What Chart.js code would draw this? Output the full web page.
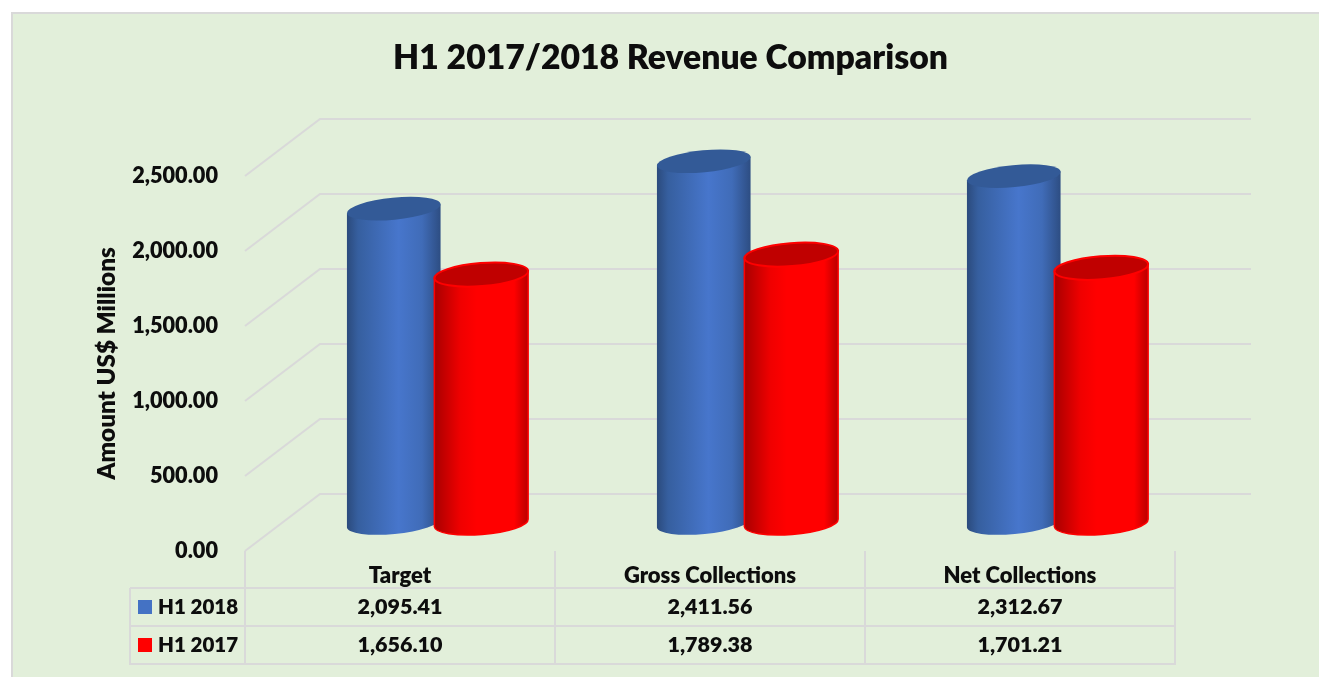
<!DOCTYPE html>
<html>
<head>
<meta charset="utf-8">
<title>H1 2017/2018 Revenue Comparison</title>
<script src="https://cdn.jsdelivr.net/npm/chart.js@4"></script>
<style>
  html, body { margin: 0; padding: 0; background: #fff; overflow: hidden; }
  canvas { display: block; }
</style>
</head>
<body>
<canvas id="revenueChart" width="1319" height="677"></canvas>
<script>
const categories = ['Target', 'Gross Collections', 'Net Collections'];
const seriesNames = ['H1 2018', 'H1 2017'];
const h1_2018 = [2095.41, 2411.56, 2312.67];
const h1_2017 = [1656.10, 1789.38, 1701.21];

const FONT = 'Lato, Carlito, Calibri, sans-serif';
const INK = '#0d0d0d';
const LINE = '#d9d9d9';
const money = v => v.toLocaleString('en-US', { minimumFractionDigits: 2, maximumFractionDigits: 2 });

// how far the back wall sits from the front plane
const DEPTH_X = 75;
const DEPTH_Y = 57;

const panel = {
  id: 'panel',
  // the title is centred on the whole panel, not the plot
  afterLayout(chart) {
    chart.titleBlock.left = 0;
    chart.titleBlock.right = 1341;
  },
  beforeDraw(chart) {
    const ctx = chart.ctx;
    ctx.save();
    ctx.fillStyle = '#e2efda';
    ctx.fillRect(12, 13, chart.width - 12, chart.height - 13);
    ctx.fillStyle = LINE;
    ctx.fillRect(11, 12, chart.width - 11, 2);
    ctx.fillRect(11, 12, 2, chart.height - 12);
    ctx.restore();
  }
};

// floor + back wall gridlines, follows the y scale ticks
const wall = {
  id: 'wall',
  beforeDatasetsDraw(chart) {
    const { ctx, chartArea, scales } = chart;
    ctx.save();
    ctx.strokeStyle = LINE;
    ctx.lineWidth = 2;
    scales.y.ticks.forEach((t, i) => {
      const y = scales.y.getPixelForTick(i);
      ctx.beginPath();
      ctx.moveTo(chartArea.left, y);
      ctx.lineTo(chartArea.left + DEPTH_X, y - DEPTH_Y);
      ctx.lineTo(chartArea.right + DEPTH_X + 1, y - DEPTH_Y);
      ctx.stroke();
    });
    ctx.restore();
  }
};

function cylinder(ctx, bar, style) {
  const a = bar.width / 2;
  const b = style.minor;
  const rot = style.tilt * Math.PI / 180;
  const cx = bar.x + DEPTH_X / 2;
  const top = bar.y - style.lift;
  const base = bar.base - style.lift;
  const dx = a * Math.cos(rot), dy = a * Math.sin(rot);

  const grad = ctx.createLinearGradient(cx - a, 0, cx + a, 0);
  style.stops.forEach(s => grad.addColorStop(s[0], s[1]));

  ctx.beginPath();
  ctx.moveTo(cx - dx, top - dy);
  ctx.lineTo(cx - dx, base - dy);
  ctx.ellipse(cx, base, a, b, rot, Math.PI, 0, true);
  ctx.lineTo(cx + dx, top + dy);
  ctx.closePath();
  ctx.fillStyle = grad;
  ctx.fill();
  if (style.edge) {
    ctx.strokeStyle = style.edge;
    ctx.lineWidth = 1.5;
    ctx.stroke();
  }

  ctx.beginPath();
  ctx.ellipse(cx, top, a, b, rot, 0, Math.PI * 2);
  ctx.fillStyle = style.cap;
  ctx.fill();
  if (style.edge) {
    ctx.strokeStyle = style.edge;
    ctx.lineWidth = 2;
    ctx.stroke();
  }
}

const cylinderStyles = [
  { tilt: -5.5, lift: 28, minor: 11, cap: '#335a97', edge: null,
    stops: [[0, '#2b4a7c'], [0.12, '#365f9f'], [0.55, '#4776cc'], [0.8, '#406cb8'], [1, '#2d4d82']] },
  { tilt: -4.5, lift: 28, minor: 11.5, cap: '#c00000', edge: '#ff0000',
    stops: [[0, '#a80000'], [0.28, '#f00000'], [0.45, '#ff0000'], [0.85, '#ff0000'], [1, '#b80000']] }
];

// bars come from the library, only the shape is ours
const cylinders = {
  id: 'cylinders',
  beforeDatasetsDraw(chart) {
    const ctx = chart.ctx;
    ctx.save();
    chart.data.datasets.forEach((ds, d) => {
      chart.getDatasetMeta(d).data.forEach(bar => cylinder(ctx, bar, cylinderStyles[d]));
    });
    ctx.restore();
    return false;
  }
};

// data table under the plot
const dataTable = {
  id: 'dataTable',
  afterDraw(chart) {
    const { ctx, chartArea, scales } = chart;
    const rows = [588, 626, 664];
    const tableLeft = 130;
    const slot = (chartArea.right - chartArea.left) / categories.length;
    ctx.save();
    ctx.strokeStyle = LINE;
    ctx.lineWidth = 2;
    rows.forEach(y => {
      ctx.beginPath();
      ctx.moveTo(tableLeft, y);
      ctx.lineTo(chartArea.right + 1, y);
      ctx.stroke();
    });
    for (let i = 0; i <= categories.length; i++) {
      const x = chartArea.left + slot * i;
      ctx.beginPath();
      ctx.moveTo(x, chartArea.bottom);
      ctx.lineTo(x, rows[2] + 1);
      ctx.stroke();
    }
    ctx.beginPath();
    ctx.moveTo(tableLeft, rows[0]);
    ctx.lineTo(tableLeft, rows[2] + 1);
    ctx.stroke();

    ctx.textBaseline = 'middle';
    chart.data.datasets.forEach((ds, d) => {
      const y = (rows[d] + rows[d + 1]) / 2;
      ctx.fillStyle = ds.backgroundColor;
      ctx.fillRect(138, y - 7, 14, 14);
      ctx.fillStyle = INK;
      ctx.textAlign = 'left';
      ctx.font = '800 20.5px ' + FONT;
      ctx.fillText(seriesNames[d], 158, y);
      ctx.textAlign = 'center';
      ctx.font = '800 21.5px ' + FONT;
      ds.data.forEach((v, i) => {
        ctx.fillText(money(v), scales.x.getPixelForValue(i), y);
      });
    });
    ctx.restore();
  }
};

new Chart(document.getElementById('revenueChart'), {
  type: 'bar',
  data: {
    labels: categories,
    datasets: [
      { label: seriesNames[0], data: h1_2018, backgroundColor: '#4472c4' },
      { label: seriesNames[1], data: h1_2017, backgroundColor: '#ff0000' }
    ]
  },
  options: {
    responsive: false,
    animation: false,
    categoryPercentage: 0.5645,
    barPercentage: 1.075,
    layout: { padding: { left: 0, top: 0, right: 144, bottom: 0 } },
    plugins: {
      legend: { display: false },
      tooltip: { enabled: false },
      title: {
        display: true,
        text: 'H1 2017/2018 Revenue Comparison',
        color: INK,
        font: { family: FONT, size: 33.7, weight: 800, lineHeight: 1.2 },
        padding: { top: 38, bottom: 97.56 }
      }
    },
    scales: {
      x: {
        grid: { display: false, drawTicks: false },
        border: { display: false },
        ticks: { color: INK, padding: 12, maxRotation: 0, autoSkip: false,
                 font: { family: FONT, size: 22, weight: 800 } },
        afterFit(scale) { scale.height = 126; }
      },
      y: {
        min: 0,
        max: 2500,
        grid: { display: false, drawTicks: false },
        border: { display: false },
        ticks: { stepSize: 500, color: INK, padding: 27,
                 font: { family: FONT, size: 21.7, weight: 800 },
                 callback: v => money(v) },
        title: { display: true, text: 'Amount US$ Millions', color: INK,
                 font: { family: FONT, size: 24.2, weight: 800 },
                 padding: { top: 93, bottom: 0 } },
        afterFit(scale) { scale.width = 245; }
      }
    }
  },
  plugins: [panel, wall, cylinders, dataTable]
});
</script>
</body>
</html>
